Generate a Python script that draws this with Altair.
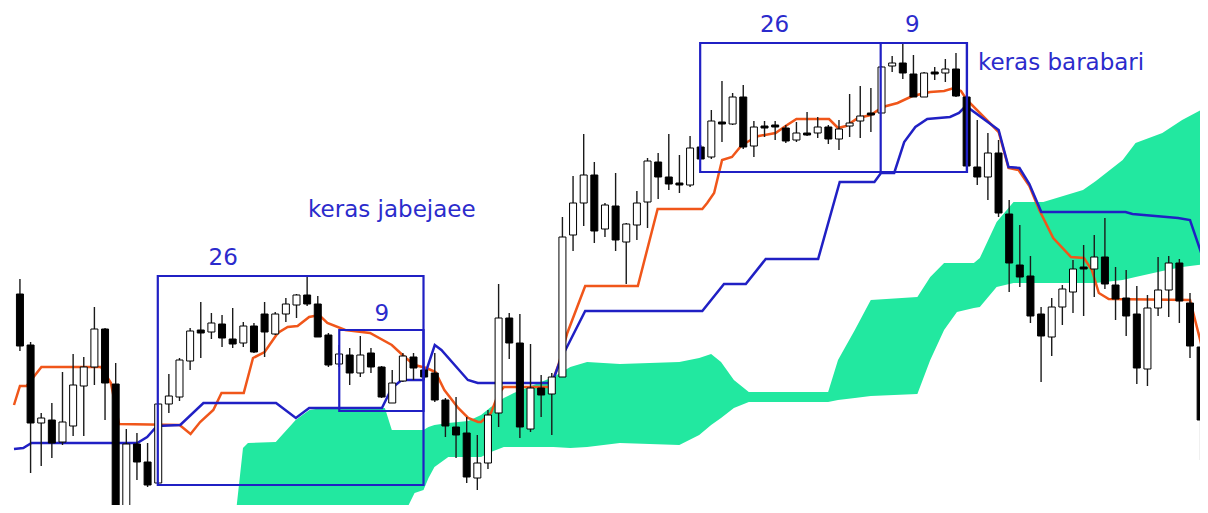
import altair as alt
import pandas as pd

# ---- candles (bar index 0..111), prices in chart units ----
opens = [219, 168, 90, 93, 71, 87, 127, 146, 184, 129,
         6, 69, 51, 30, 109, 116, 152, 183, 181, 189,
         174, 170, 187, 199, 179, 199, 208, 218, 209, 178,
         149, 158, 140, 160, 146, 110, 132, 156, 143, 140,
         113, 86, 80, 35, 50, 100, 195, 170, 84, 125,
         119, 136, 278, 310, 338, 284, 307, 271, 288, 311,
         351, 336, 330, 328, 366, 356, 391, 389, 416, 367,
         387, 388, 385, 373, 380, 380, 386, 374, 387, 392,
         400, 400, 447, 450, 439, 416, 441, 440, 444, 416,
         346, 336, 360, 299, 248, 237, 199, 176, 206, 221,
         246, 244, 256, 228, 215, 199, 144, 205, 223, 250,
         210, 166]
closes = [167, 90, 95, 70, 91, 128, 146, 184, 130, 5,
          69, 51, 28, 109, 117, 153, 182, 180, 190, 175,
          169, 187, 161, 181, 199, 209, 218, 209, 176, 148,
          159, 140, 158, 146, 116, 130, 157, 145, 136, 113,
          87, 78, 36, 50, 98, 195, 170, 86, 125, 118,
          136, 276, 310, 338, 282, 308, 273, 289, 310, 352,
          336, 329, 328, 365, 354, 392, 389, 416, 366, 386,
          385, 386, 372, 380, 378, 386, 374, 384, 390, 397,
          398, 446, 450, 440, 416, 440, 439, 444, 417, 347,
          336, 360, 300, 250, 236, 197, 177, 206, 224, 244,
          244, 256, 229, 214, 197, 145, 205, 223, 250, 212,
          167, 93]
highs = [234, 171, 100, 110, 141, 159, 156, 206, 185, 150,
         84, 80, 70, 110, 139, 155, 185, 211, 200, 198,
         205, 191, 190, 211, 201, 215, 219, 236, 217, 180,
         168, 165, 177, 165, 147, 143, 160, 160, 146, 160,
         115, 116, 96, 78, 103, 229, 200, 199, 169, 138,
         140, 296, 337, 379, 351, 310, 340, 290, 322, 355,
         360, 379, 358, 377, 368, 403, 432, 420, 428, 392,
         392, 392, 388, 391, 401, 396, 388, 393, 419, 427,
         425, 447, 457, 469, 458, 441, 446, 454, 460, 418,
         393, 380, 373, 313, 288, 257, 206, 215, 228, 253,
         268, 278, 295, 246, 243, 227, 218, 256, 257, 254,
         220, 181]
lows = [162, 40, 47, 55, 68, 77, 77, 128, 93, 1,
        3, 33, 26, 29, 100, 112, 143, 155, 174, 166,
        165, 166, 160, 156, 178, 191, 195, 207, 176, 146,
        146, 128, 136, 140, 115, 110, 131, 133, 133, 111,
        76, 55, 30, 23, 44, 86, 154, 75, 81, 96,
        78, 136, 262, 287, 270, 276, 262, 229, 273, 285,
        314, 323, 320, 326, 354, 354, 371, 388, 364, 356,
        376, 373, 370, 371, 377, 375, 369, 363, 376, 375,
        381, 400, 441, 434, 416, 416, 433, 431, 416, 347,
        328, 313, 296, 221, 226, 190, 131, 157, 188, 200,
        197, 216, 224, 193, 177, 129, 127, 197, 196, 190,
        155, 53]

# ---- Tenkan-sen (orange) ----
tenkan_t = [-0.56, 0, 0.62, 2.02, 7.62, 8.55, 9.32, 15.01, 16.04, 16.94,
            18.18, 18.95, 21.04, 21.91, 23.0, 24.24, 25.17, 26.10, 27.19, 28.13,
            28.90, 30.58, 32.91, 34.96, 36.17, 37.10, 38.22, 39.06, 39.90, 41.20,
            42.14, 43.07, 43.35, 44.28, 44.93, 45.49, 49.87, 50.62, 51.46, 53.14,
            58.09, 59.95, 64.15, 64.61, 65.26, 66.01, 66.94, 67.87, 68.71, 69.46,
            71.04, 71.98, 73.0, 76.07, 76.91, 77.66, 78.78, 79.99, 81.11, 82.51,
            83.90, 85.58, 86.88, 87.81, 88.47, 89.03, 92.01, 92.94, 93.88, 94.90,
            95.83, 97.14, 98.81, 100.03, 100.77, 101.43, 102.36, 110.0, 111.12]
tenkan_v = [108, 127, 127, 146, 146, 130, 89, 88, 79, 91,
            103, 120, 120, 155, 161, 180, 186, 187, 196, 198,
            190, 183, 180, 168, 156, 148, 145, 141, 123, 105,
            95, 91, 91, 100, 118, 126, 126, 148, 180, 227,
            227, 304, 304, 310, 320, 353, 356, 368, 373, 377,
            380, 387, 394, 394, 385, 387, 395, 398, 406, 410,
            417, 421, 422, 425, 422, 413, 381, 345, 343, 327,
            303, 275, 256, 255, 243, 220, 214, 213, 166]

# ---- Kijun-sen (blue) ----
kijun_t = [-0.56, 0.31, 1.09, 11.03, 11.96, 12.89, 15.07, 17.25, 24.08, 25.94,
           27.19, 34.03, 34.96, 35.89, 37.91, 39.0, 39.62, 42.11, 43.04, 50.03,
           50.81, 53.14, 64.15, 66.19, 68.24, 70.11, 75.04, 77.07, 80.33, 80.95,
           82.19, 83.13, 84.18, 85.30, 87.44, 88.28, 88.93, 92.01, 92.94, 93.97,
           94.90, 96.02, 103.94, 104.59, 108.88, 110.0, 111.12]
kijun_v = [64, 65, 70, 70, 76, 87, 88, 110, 110, 95,
           105, 105, 125, 133, 133, 168, 163, 133, 130, 130,
           153, 202, 202, 229, 229, 254, 254, 331, 331, 340,
           340, 371, 386, 394, 396, 400, 407, 383, 346, 345,
           329, 301, 301, 299, 295, 293, 258]

# ---- Kumo (cloud) ----
cloud_t = [20.23, 20.97, 21.44, 24.05, 25.92, 27.22, 28.43, 34.31, 34.96, 35.89,
           36.17, 37.10, 37.94, 38.41, 38.97, 40.27, 42.14, 43.35, 44.28, 45.49,
           46.43, 50.15, 51.74, 53.32, 56.40, 61.99, 63.86, 64.98, 65.91, 67.12,
           68.52, 75.98, 76.91, 78.49, 79.99, 84.37, 85.58, 86.88, 88.09, 89.68,
           90.24, 91.82, 93.41, 96.21, 99.94, 101.15, 103.67, 104.88, 107.40, 109.26,
           111.40]
cloud_top = [-7, 65, 70, 71, 93, 103, 105, 105, 83, 83,
             83, 83, 83, 86, 88, 90, 92, 98, 106, 115,
             120, 136, 146, 151, 149, 151, 155, 159, 151, 133,
             121, 121, 153, 183, 213, 216, 236, 250, 250, 250,
             255, 291, 311, 311, 323, 332, 353, 370, 380, 393,
             405]
cloud_bot = [-7, -7, -7, -7, -7, -7, -7, -7, -7, -7,
             0, 20, 23, 35, 46, 56, 56, 56, 61, 66,
             66, 66, 65, 66, 70, 68, 78, 88, 95, 105,
             111, 111, 113, 115, 117, 119, 153, 183, 201, 205,
             206, 226, 230, 230, 230, 230, 233, 236, 242, 246,
             249]

# ---- annotation boxes (26 / 9 periods) ----
box_x1 = [12.96, 30.02, 63.95, 80.92]
box_x2 = [37.94, 37.94, 89.03, 89.03]
box_y1 = [28, 102, 341, 341]
box_y2 = [237, 183, 470, 470]

num_text = ["26", "9", "26", "9"]
num_t = [19.11, 34.03, 70.94, 83.9]
num_v = [255, 199, 488, 488]

phrase_text = ["keras jabejaee", "keras barabari"]
phrase_t = [34.96, 97.88]
phrase_v = [303, 450]

# ---------------------------------------------------------------
candles = pd.DataFrame({
    "t": list(range(len(opens))),
    "open": opens, "close": closes, "high": highs, "low": lows,
})
candles["dir"] = ["up" if c >= o else "down" for o, c in zip(opens, closes)]

tenkan = pd.DataFrame({"t": tenkan_t, "v": tenkan_v})
kijun = pd.DataFrame({"t": kijun_t, "v": kijun_v})
cloud = pd.DataFrame({"t": cloud_t, "top": cloud_top, "bot": cloud_bot})
boxes = pd.DataFrame({"x1": box_x1, "x2": box_x2, "y1": box_y1, "y2": box_y2})
nums = pd.DataFrame({"t": num_t, "v": num_v, "txt": num_text})
phrases = pd.DataFrame({"t": phrase_t, "v": phrase_v, "txt": phrase_text})

XS = alt.Scale(domain=[-0.6526, 110.47], nice=False, zero=False)
YS = alt.Scale(domain=[8, 505], nice=False, zero=False)

BLUE = "#2020C4"
TEXT_BLUE = "#2B2BCC"
ORANGE = "#F0561A"
GREEN = "#22E8A0"

cloud_layer = alt.Chart(cloud).mark_area(color=GREEN, opacity=1, clip=True).encode(
    x=alt.X("t:Q", scale=XS, axis=None),
    y=alt.Y("top:Q", scale=YS, axis=None),
    y2="bot:Q",
)

tenkan_layer = alt.Chart(tenkan).mark_line(color=ORANGE, strokeWidth=2.5, clip=True).encode(
    x=alt.X("t:Q", scale=XS, axis=None),
    y=alt.Y("v:Q", scale=YS, axis=None),
    order="t:Q",
)

kijun_layer = alt.Chart(kijun).mark_line(color=BLUE, strokeWidth=2.5, clip=True).encode(
    x=alt.X("t:Q", scale=XS, axis=None),
    y=alt.Y("v:Q", scale=YS, axis=None),
    order="t:Q",
)

wick_layer = alt.Chart(candles).mark_rule(color="#1a1a1a", strokeWidth=1.4, clip=True).encode(
    x=alt.X("t:Q", scale=XS, axis=None),
    y=alt.Y("low:Q", scale=YS, axis=None),
    y2="high:Q",
)

body_layer = alt.Chart(candles).mark_bar(size=7, stroke="black", strokeWidth=1, clip=True).encode(
    x=alt.X("t:Q", scale=XS, axis=None),
    y=alt.Y("open:Q", scale=YS, axis=None),
    y2="close:Q",
    color=alt.Color("dir:N", scale=alt.Scale(domain=["up", "down"], range=["white", "black"]), legend=None),
)

box_layer = alt.Chart(boxes).mark_rect(fillOpacity=0, stroke=BLUE, strokeWidth=2.2, clip=True).encode(
    x=alt.X("x1:Q", scale=XS, axis=None),
    x2="x2:Q",
    y=alt.Y("y1:Q", scale=YS, axis=None),
    y2="y2:Q",
)

num_layer = alt.Chart(nums).mark_text(
    font="DejaVu Sans", fontSize=23, color=TEXT_BLUE, align="center", baseline="middle"
).encode(
    x=alt.X("t:Q", scale=XS, axis=None),
    y=alt.Y("v:Q", scale=YS, axis=None),
    text="txt:N",
)

phrase_layer = alt.Chart(phrases).mark_text(
    font="DejaVu Sans", fontSize=23, color=TEXT_BLUE, align="center", baseline="middle"
).encode(
    x=alt.X("t:Q", scale=XS, axis=None),
    y=alt.Y("v:Q", scale=YS, axis=None),
    text="txt:N",
)

chart = alt.layer(
    cloud_layer, tenkan_layer, kijun_layer, wick_layer, body_layer,
    box_layer, num_layer, phrase_layer,
).properties(
    width=1192, height=497, padding=0, background="white",
).configure_view(stroke=None)

chart.save("out.html", embed_options={"renderer": "svg", "actions": False})
